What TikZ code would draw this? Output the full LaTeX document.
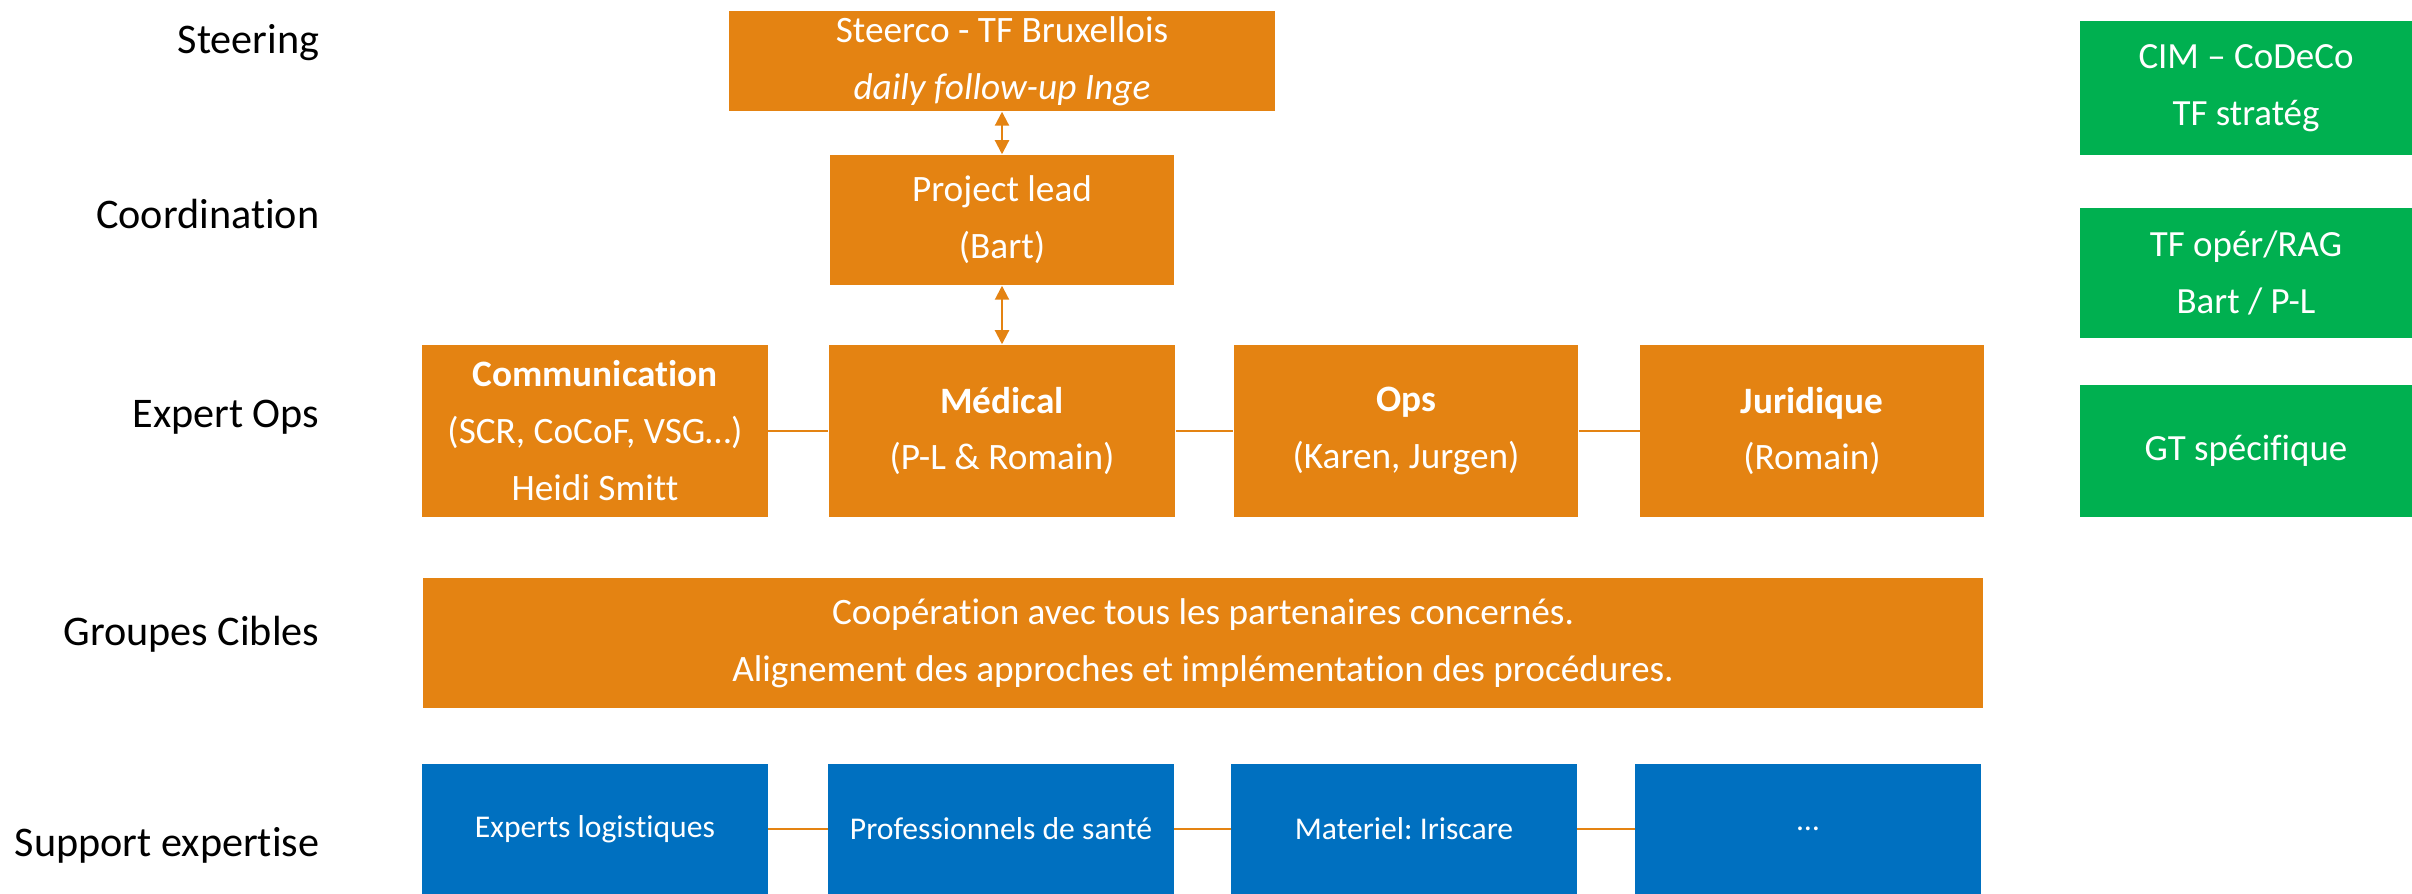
\documentclass[tikz,border=0pt]{standalone}
\usepackage{fontspec}
\setmainfont{Carlito}[Ligatures=CommonOff]
\usetikzlibrary{arrows.meta}
\definecolor{orgbox}{RGB}{228,131,18}
\definecolor{bluebox}{RGB}{0,112,192}
\definecolor{greenbox}{RGB}{0,176,80}
\frenchspacing
\begin{document}
\begin{tikzpicture}[x=0.01cm,y=-0.01cm,
  obox/.style={fill=orgbox,text=white,inner sep=0pt,align=center,font=\fontsize{10.6}{16.2}\selectfont},
  bbox/.style={fill=bluebox,text=white,inner sep=0pt,align=center,minimum width=3.45cm,minimum height=1.29cm,font=\fontsize{9}{11}\selectfont},
  gbox/.style={fill=greenbox,text=white,inner sep=0pt,align=center,minimum width=3.32cm,minimum height=1.31cm,font=\fontsize{10.5}{16.2}\selectfont},
  lvl/.style={anchor=east,inner sep=0pt,font=\fontsize{12}{14}\selectfont},
  link/.style={draw=orgbox,line width=0.6pt},
  biarrow/.style={link,{Triangle[length=1.4mm,width=1.4mm]}-{Triangle[length=1.4mm,width=1.4mm]}}]
\useasboundingbox (0,0) rectangle (2412,894);

\node[lvl] (steering) at (320,43) {Steering};
\node[lvl] (coord) at (320,214) {Coordination};
\node[lvl] (expert) at (320,417) {Expert Ops};
\node[lvl] (groupes) at (320,634) {Groupes Cibles};
\node[lvl] (support) at (320,845) {Support expertise};

\node[obox,minimum width=5.46cm,minimum height=1.00cm] (steerco) at (1002,61) {Steerco - TF Bruxellois\\ \textit{daily follow-up Inge}};
\node[obox,minimum width=3.43cm,minimum height=1.30cm] (lead) at (1002,220) {Project lead\\(Bart)};

\node[obox,minimum width=3.45cm,minimum height=1.72cm] (comm) at (595,431) {\textbf{Communication}\\(SCR, CoCoF, VSG\dots)\\Heidi Smitt};
\node[obox,minimum width=3.46cm,minimum height=1.72cm] (med) at (1002,431) {\textbf{Médical}\\(P-L \& Romain)};
\node[obox,minimum width=3.44cm,minimum height=1.72cm] (ops) at (1406,431) {\textbf{Ops}\\(Karen, Jurgen)};
\node[obox,minimum width=3.43cm,minimum height=1.72cm] (jur) at (1812,431) {\textbf{Juridique}\\(Romain)};

\node[obox,minimum width=15.60cm,minimum height=1.30cm] (cibles) at (1203,643) {Coopération avec tous les partenaires concernés.\\Alignement des approches et implémentation des procédures.};

\node[bbox] (logist) at (595,829) {Experts logistiques};
\node[bbox] (sante) at (1001,829) {Professionnels de santé};
\node[bbox] (materiel) at (1404,829) {Materiel: Iriscare};
\node[bbox] (autres) at (1808,829) {\dots};

\node[gbox,minimum height=1.33cm] (cim) at (2246,88) {CIM -- CoDeCo\\TF stratég};
\node[gbox,minimum height=1.30cm] (tfoper) at (2246,273) {TF opér/RAG\\Bart / P-L};
\node[gbox] (gt) at (2246,451) {GT spécifique};

\draw[biarrow] (steerco) -- (lead);
\draw[biarrow] (lead) -- (med);
\draw[link] (comm) -- (med);
\draw[link] (med) -- (ops);
\draw[link] (ops) -- (jur);
\draw[link] (logist) -- (sante);
\draw[link] (sante) -- (materiel);
\draw[link] (materiel) -- (autres);
\end{tikzpicture}
\end{document}
